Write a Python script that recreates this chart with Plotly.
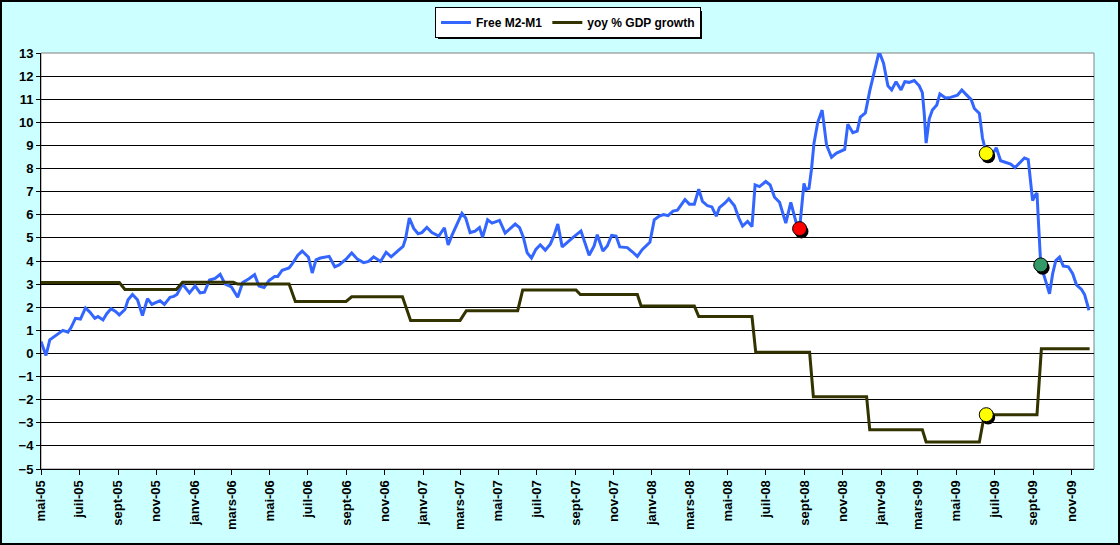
import pandas as pd
import plotly.graph_objects as go

# Free M2-M1, weekly-ish readings
m2_dates = [
    "2005-05-01", "2005-05-09", "2005-05-15", "2005-05-23", "2005-05-30", "2005-06-05", "2005-06-13",
    "2005-06-18", "2005-06-25", "2005-07-03", "2005-07-11", "2005-07-18", "2005-07-26", "2005-07-31",
    "2005-08-08", "2005-08-14", "2005-08-21", "2005-08-28", "2005-09-03", "2005-09-12", "2005-09-17",
    "2005-09-24", "2005-10-02", "2005-10-10", "2005-10-18", "2005-10-25", "2005-10-31", "2005-11-07",
    "2005-11-14", "2005-11-23", "2005-11-29", "2005-12-04", "2005-12-13", "2005-12-24",
    "2006-01-02", "2006-01-10", "2006-01-17", "2006-01-25", "2006-02-03", "2006-02-11", "2006-02-19",
    "2006-03-01", "2006-03-11", "2006-03-19", "2006-03-29", "2006-04-07", "2006-04-14", "2006-04-22",
    "2006-04-30", "2006-05-09", "2006-05-14", "2006-05-21", "2006-06-01", "2006-06-06", "2006-06-15",
    "2006-06-22", "2006-07-02", "2006-07-08", "2006-07-14", "2006-07-21", "2006-08-04", "2006-08-13",
    "2006-08-20", "2006-08-31", "2006-09-09", "2006-09-18", "2006-09-28", "2006-10-06", "2006-10-14",
    "2006-10-25", "2006-11-03", "2006-11-11", "2006-11-23", "2006-11-30", "2006-12-04", "2006-12-10",
    "2006-12-17", "2006-12-24", "2006-12-30",
    "2007-01-07", "2007-01-15", "2007-01-26", "2007-02-04", "2007-02-10", "2007-02-16", "2007-02-24",
    "2007-03-04", "2007-03-10", "2007-03-17", "2007-03-25", "2007-04-01", "2007-04-06", "2007-04-14",
    "2007-04-21", "2007-05-03", "2007-05-12", "2007-05-20", "2007-05-28", "2007-06-04", "2007-06-10",
    "2007-06-16", "2007-06-23", "2007-06-30", "2007-07-07", "2007-07-15", "2007-07-23", "2007-07-29",
    "2007-08-04", "2007-08-11", "2007-08-19", "2007-08-27", "2007-09-10", "2007-09-17", "2007-09-23",
    "2007-10-01", "2007-10-06", "2007-10-15", "2007-10-22", "2007-10-29", "2007-11-05", "2007-11-11",
    "2007-11-23", "2007-12-01", "2007-12-09", "2007-12-17", "2007-12-29",
    "2008-01-05", "2008-01-13", "2008-01-20", "2008-01-27", "2008-02-04", "2008-02-11", "2008-02-23",
    "2008-03-01", "2008-03-09", "2008-03-16", "2008-03-22", "2008-03-30", "2008-04-06", "2008-04-13",
    "2008-04-18", "2008-04-27", "2008-05-03", "2008-05-12", "2008-05-19", "2008-05-25", "2008-06-02",
    "2008-06-09", "2008-06-14", "2008-06-21", "2008-07-01", "2008-07-08", "2008-07-15", "2008-07-23",
    "2008-08-02", "2008-08-10", "2008-08-18", "2008-08-24", "2008-08-31", "2008-09-03", "2008-09-08",
    "2008-09-12", "2008-09-16", "2008-09-22", "2008-09-29", "2008-10-06", "2008-10-14", "2008-10-22",
    "2008-11-04", "2008-11-09", "2008-11-17", "2008-11-24", "2008-11-29", "2008-12-07", "2008-12-14",
    "2008-12-21", "2008-12-29",
    "2009-01-05", "2009-01-12", "2009-01-18", "2009-01-25", "2009-02-02", "2009-02-08", "2009-02-15",
    "2009-02-23", "2009-03-03", "2009-03-08", "2009-03-11", "2009-03-14", "2009-03-19", "2009-03-24",
    "2009-03-31", "2009-04-05", "2009-04-14", "2009-04-22", "2009-05-03", "2009-05-10", "2009-05-17",
    "2009-05-25", "2009-05-30", "2009-06-07", "2009-06-12", "2009-06-18", "2009-06-27", "2009-07-04",
    "2009-07-11", "2009-07-19", "2009-07-27", "2009-08-03", "2009-08-11", "2009-08-18", "2009-08-24",
    "2009-08-28", "2009-08-31", "2009-09-04", "2009-09-07", "2009-09-09", "2009-09-13", "2009-09-19",
    "2009-09-27", "2009-10-02", "2009-10-07", "2009-10-13", "2009-10-19", "2009-10-27", "2009-11-03",
    "2009-11-09", "2009-11-17", "2009-11-22", "2009-11-26", "2009-11-29",
]
m2_values = [
    0.52, -0.09, 0.59, 0.75, 0.85, 1.0, 0.92,
    1.12, 1.52, 1.49, 1.97, 1.79, 1.52, 1.6,
    1.45, 1.72, 1.94, 1.82, 1.67, 1.9, 2.32,
    2.55, 2.32, 1.64, 2.37, 2.12, 2.2, 2.28,
    2.12, 2.43, 2.47, 2.55, 3.0, 2.62,
    2.92, 2.62, 2.65, 3.18, 3.25, 3.42, 3.0,
    2.88, 2.43, 3.07, 3.23, 3.41, 2.92, 2.85,
    3.15, 3.33, 3.33, 3.6, 3.7, 3.87, 4.25,
    4.43, 4.16, 3.48, 4.05, 4.13, 4.2, 3.75,
    3.83, 4.08, 4.35, 4.08, 3.93, 3.98, 4.18,
    3.98, 4.38, 4.18, 4.47, 4.63, 4.96, 5.86,
    5.41, 5.18, 5.23,
    5.45, 5.23, 5.08, 5.44, 4.69, 5.11, 5.59,
    6.06, 5.86, 5.23, 5.29, 5.45, 5.03, 5.78,
    5.64, 5.76, 5.21, 5.41, 5.6, 5.44, 5.03,
    4.36, 4.13, 4.5, 4.7, 4.47, 4.73, 5.11,
    5.6, 4.61, 4.81, 4.99, 5.3, 4.73, 4.25,
    4.65, 5.14, 4.43, 4.65, 5.11, 5.08, 4.61,
    4.58, 4.4, 4.2, 4.5, 4.81,
    5.78, 5.94, 6.01, 5.96, 6.16, 6.2, 6.66,
    6.46, 6.46, 7.11, 6.58, 6.39, 6.34, 5.94,
    6.31, 6.51, 6.69, 6.39, 5.86, 5.51, 5.71,
    5.49, 7.29, 7.22, 7.44, 7.29, 6.76, 6.54,
    5.64, 6.54, 5.71, 5.4, 7.36, 7.09, 7.14,
    7.97, 9.1, 10.0, 10.53, 9.02, 8.49, 8.67,
    8.83, 9.92, 9.55, 9.62, 10.23, 10.41, 11.36,
    12.11, 13.06,
    12.56, 11.58, 11.4, 11.76, 11.4, 11.76, 11.73,
    11.81, 11.58, 11.28, 10.38, 9.1, 10.15, 10.53,
    10.75, 11.23, 11.05, 11.08, 11.17, 11.4, 11.2,
    10.98, 10.6, 10.38, 9.32, 8.65, 8.57, 8.9,
    8.34, 8.27, 8.19, 8.04, 8.27, 8.46, 8.39,
    7.52, 6.61, 6.84, 6.94, 5.86, 3.83, 3.3,
    2.58, 3.45, 4.02, 4.17, 3.78, 3.75, 3.45,
    2.97, 2.77, 2.55, 2.17, 1.87,
]

# yoy % GDP growth (quarterly steps)
gdp_dates = [
    "2005-05-01", "2005-09-03", "2005-09-12", "2005-12-03", "2005-12-13", "2006-03-04",
    "2006-03-11", "2006-06-01", "2006-06-11", "2006-08-31", "2006-09-09", "2006-11-29",
    "2006-12-12", "2007-03-01", "2007-03-11", "2007-06-01", "2007-06-09", "2007-09-02",
    "2007-09-09", "2007-12-09", "2007-12-15", "2008-03-09", "2008-03-16", "2008-06-09",
    "2008-06-15", "2008-09-09", "2008-09-15", "2008-12-09", "2008-12-14", "2009-03-08",
    "2009-03-14", "2009-06-07", "2009-06-15", "2009-09-07", "2009-09-14", "2009-11-30",
]
gdp_values = [
    3.07, 3.07, 2.77, 2.77, 3.08, 3.08,
    3.0, 3.0, 2.25, 2.25, 2.45, 2.45,
    1.43, 1.43, 1.85, 1.85, 2.75, 2.75,
    2.55, 2.55, 2.05, 2.05, 1.6, 1.6,
    0.05, 0.05, -1.87, -1.87, -3.3, -3.3,
    -3.83, -3.83, -2.65, -2.65, 0.2, 0.2,
]

# highlighted points
event_dates = ["2008-08-24", "2009-06-18", "2009-09-13", "2009-06-18"]
event_values = [5.4, 8.65, 3.83, -2.65]
event_colors = ["#FF0000", "#FFFF00", "#339966", "#FFFF00"]

tick_labels = [
    "mai-05", "juil-05", "sept-05", "nov-05",
    "janv-06", "mars-06", "mai-06", "juil-06", "sept-06", "nov-06",
    "janv-07", "mars-07", "mai-07", "juil-07", "sept-07", "nov-07",
    "janv-08", "mars-08", "mai-08", "juil-08", "sept-08", "nov-08",
    "janv-09", "mars-09", "mai-09", "juil-09", "sept-09", "nov-09",
]
tick_dates = pd.date_range("2005-05-01", periods=len(tick_labels), freq="2MS")
y_ticks = list(range(-5, 14))

W, H = 1120, 545
ml, mr, mt, mb = 41, 26, 53, 76
pw, ph = W - ml - mr, H - mt - mb


def px_x(px):
    # page pixel (from left) -> paper x
    return (px - ml) / pw


def px_y(py):
    # page pixel (from top) -> paper y
    return (H - mb - py) / ph


FONT = "Arial, Liberation Sans, sans-serif"
font_b = dict(family=FONT, size=13, color="black", weight="bold")

fig = go.Figure()
fig.add_trace(go.Scatter(x=m2_dates, y=m2_values, mode="lines", name="Free M2-M1",
                         line=dict(color="#3366FF", width=3)))
fig.add_trace(go.Scatter(x=gdp_dates, y=gdp_values, mode="lines", name="yoy % GDP growth",
                         line=dict(color="#333300", width=3)))

# little drop shadow under the highlighted points
shadow_x = [pd.Timestamp(d) + pd.Timedelta(days=3) for d in event_dates]
shadow_y = [v - 0.12 for v in event_values]
fig.add_trace(go.Scatter(x=shadow_x, y=shadow_y, mode="markers", showlegend=False, hoverinfo="skip",
                         marker=dict(size=14, color="black")))
fig.add_trace(go.Scatter(x=event_dates, y=event_values, mode="markers", showlegend=False,
                         marker=dict(size=14, color=event_colors, line=dict(color="black", width=1))))

# gray plot-area frame, black outer border, legend shadow
fig.add_shape(type="rect", xref="paper", yref="paper", x0=0, y0=0, x1=1, y1=1,
              line=dict(color="#808080", width=1), layer="below")
fig.add_shape(type="rect", xref="paper", yref="paper",
              x0=px_x(1), x1=px_x(W - 1), y0=px_y(H - 1), y1=px_y(1),
              line=dict(color="black", width=2))
fig.add_shape(type="rect", xref="paper", yref="paper",
              x0=px_x(438), x1=px_x(702), y0=px_y(39), y1=px_y(11),
              line=dict(width=0), fillcolor="black")

fig.update_layout(
    width=W, height=H,
    margin=dict(l=ml, r=mr, t=mt, b=mb, autoexpand=False),
    paper_bgcolor="#CCFFFF",
    plot_bgcolor="white",
    showlegend=True,
    legend=dict(orientation="h", xref="container", yref="container",
                x=435 / W, xanchor="left", y=1 - 7 / H, yanchor="top",
                bgcolor="white", bordercolor="black", borderwidth=1, itemwidth=30,
                font=dict(family=FONT, size=12, color="black", weight="bold")),
    xaxis=dict(type="date", range=["2005-05-01", "2009-12-07"], automargin=False,
               tickmode="array", tickvals=tick_dates, ticktext=tick_labels, tickangle=-90,
               tickfont=font_b, showgrid=False, zeroline=False,
               showline=True, linecolor="black", linewidth=1,
               ticks="outside", ticklen=5, tickcolor="black"),
    yaxis=dict(range=[-5, 13], automargin=False, tickmode="array", tickvals=y_ticks, tickfont=font_b,
               showgrid=True, gridcolor="black", gridwidth=1, zeroline=False,
               showline=True, linecolor="black", linewidth=1,
               ticks="outside", ticklen=4, tickcolor="black"),
)

fig.write_html(
    "out.html", config={"displayModeBar": False},
    post_script=("document.documentElement.style.overflow='hidden';"
                 "document.body.style.overflow='hidden';"
                 "document.body.style.margin='0';"),
)
